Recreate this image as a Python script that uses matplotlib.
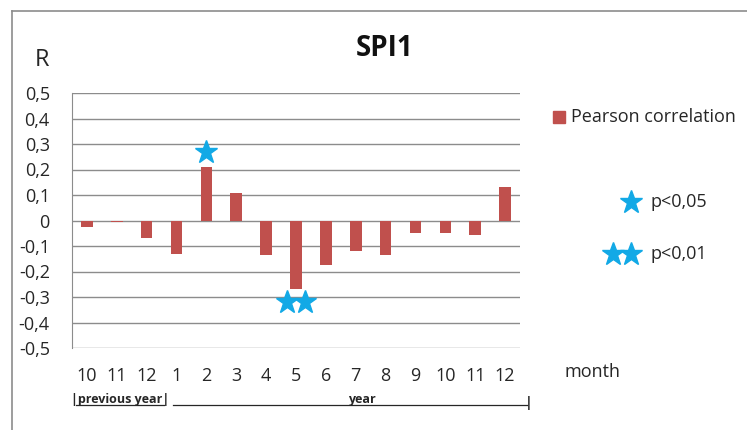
import numpy as np
import matplotlib
matplotlib.use("Agg")
import matplotlib.pyplot as plt
from matplotlib.lines import Line2D

plt.rcParams['font.family'] = ['Open Sans', 'DejaVu Sans']

# data
months = ["10", "11", "12", "1", "2", "3", "4", "5", "6", "7", "8", "9", "10", "11", "12"]
pearson = [-0.025, -0.004, -0.07, -0.13, 0.21, 0.108, -0.136, -0.27, -0.173, -0.118,
           -0.136, -0.048, -0.048, -0.058, 0.133]
star05_idx = [4]
star05_y = [0.27]
star01_idx = [7]
star01_y = [-0.32]

bar_col = "#C0504D"
star_col = "#12A9E6"
grid_col = "#8C8C8C"
txt_col = "#262626"

W, H = 747, 430
fig = plt.figure(figsize=(W / 100, H / 100), dpi=100)
ax = fig.add_axes([72 / W, 1 - 348 / H, (520 - 72) / W, (348 - 93) / H])

x = np.arange(len(months))
ax.bar(x, pearson, width=0.39, color=bar_col, zorder=3)

# significance stars
ax.plot(x[star05_idx], star05_y, ls="none", marker="*", ms=17, color=star_col, zorder=4)
for i, yv in zip(star01_idx, star01_y):
    ax.plot([x[i] - 0.3, x[i] + 0.3], [yv, yv], ls="none", marker="*", ms=17,
            color=star_col, zorder=4)

ax.set_xlim(-0.5, len(months) - 0.5)
ax.set_ylim(-0.5, 0.5)
yt = np.round(np.arange(-0.5, 0.51, 0.1), 1)
ax.set_yticks(yt)
ax.set_yticklabels([("%g" % v).replace(".", ",") if v != 0 else "0" for v in yt])
ax.set_xticks(x)
ax.set_xticklabels(months)
ax.tick_params(length=0, labelsize=13, colors=txt_col)
ax.tick_params(axis="y", pad=16)
ax.tick_params(axis="x", pad=14)
ax.grid(axis="y", color=grid_col, lw=1, zorder=0)
for s in ["top", "right", "bottom"]:
    ax.spines[s].set_visible(False)
ax.spines["left"].set_color(grid_col)

# titles
fig.text(385 / W, 1 - 48 / H, "SPI1", fontsize=20, fontweight="bold", ha="center", va="center",
         color="#111111")
fig.text(42 / W, 1 - 60 / H, "R", fontsize=17, ha="center", va="center", color=txt_col)
fig.text(564 / W, 1 - 372 / H, "month", fontsize=13, ha="left", va="center", color=txt_col)

# previous year / year bracket under the axis
yb = 1 - 400 / H
yl = 1 - 405 / H
fig.text(71 / W, yb, "|previous year|", fontsize=9, fontweight="bold", ha="left", va="center",
         color=txt_col)
fig.add_artist(Line2D([76 / W, 164 / W], [yl, yl], color=txt_col, lw=0.9))
fig.add_artist(Line2D([173 / W, 527 / W], [yl, yl], color=txt_col, lw=0.9))
fig.text(362 / W, yb, "year", fontsize=9, fontweight="bold", ha="center", va="center",
         color=txt_col)
fig.text(529 / W, 1 - 403 / H, "|", fontsize=10, fontweight="bold", ha="center", va="center",
         color=txt_col)

# legend
fig.add_artist(Line2D([559 / W], [1 - 117 / H], ls="none", marker="s", ms=8, color=bar_col))
fig.text(571 / W, 1 - 117 / H, "Pearson correlation", fontsize=13, va="center", color=txt_col)
fig.add_artist(Line2D([631 / W], [1 - 202 / H], ls="none", marker="*", ms=17, color=star_col))
fig.text(651 / W, 1 - 202 / H, "p<0,05", fontsize=13, va="center", color=txt_col)
fig.add_artist(Line2D([613 / W, 631 / W], [1 - 254 / H, 1 - 254 / H], ls="none",
                      marker="*", ms=17, color=star_col))
fig.text(651 / W, 1 - 254 / H, "p<0,01", fontsize=13, va="center", color=txt_col)

# outer chart border
fig.add_artist(Line2D([12 / W, 12 / W], [0, 1 - 11 / H], color=grid_col, lw=1.2))
fig.add_artist(Line2D([12 / W, 1], [1 - 11 / H, 1 - 11 / H], color=grid_col, lw=1.2))

fig.savefig("out.png", dpi=100)
